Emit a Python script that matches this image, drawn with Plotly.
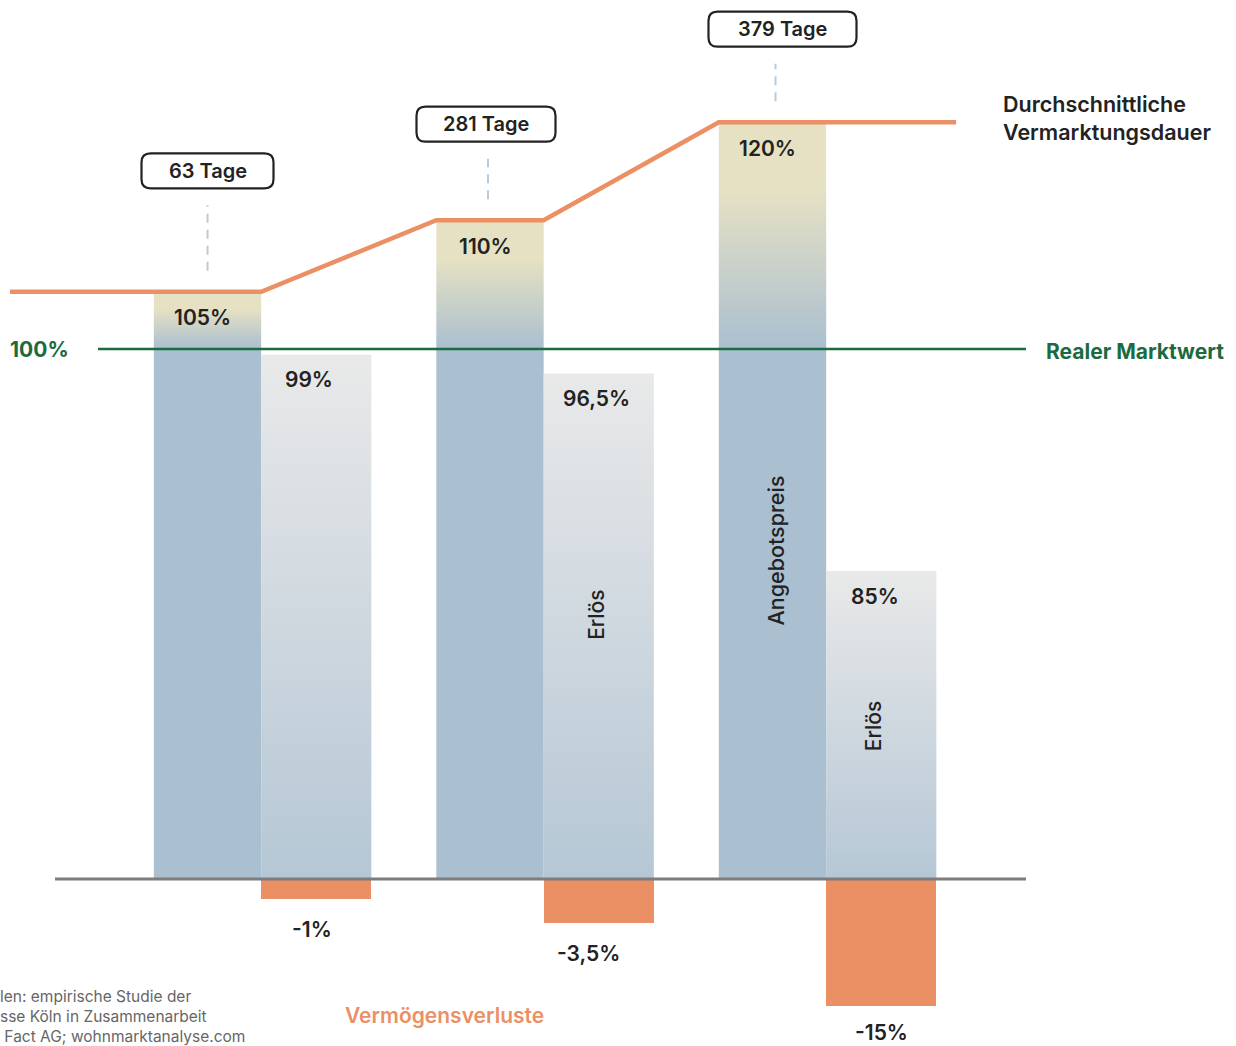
import plotly.graph_objects as go

# ---------------- data ----------------
vermarktungsdauer_tage = [63, 281, 379]
angebotspreis_pct = [105, 110, 120]
erloes_pct = [99, 96.5, 85]
verlust_pct = [-1, -3.5, -15]
# bar heights as drawn in the picture (scale: 0 = baseline, 100 = real market value line)
angebotspreis_hoehe = [110.8, 124.3, 142.8]
erloes_hoehe = [98.9, 95.4, 58.1]
verlust_hoehe = [-3.8, -8.3, -24.0]
marktwert = 100

# ---------------- style ----------------
FONT = "Inter"
DARK = "#222222"
GREEN = "#1b6b3e"
ORANGE = "#eb8f64"
BEIGE = "#e6e1c3"
BLUE = "#aabfd0"
ERL_TOP = "#e9e9e9"
ERL_BOT = "#b5c7d5"
W = 0.38      # Angebotspreis bar width
W2 = 0.39     # Erlös / Verlust bar width
gx = [1, 2, 3]
box_offset_px = [121, 96, 93]
box_w_px = [132, 139, 148]
box_dx_px = [0, -4, 10]
dash_dx_px = [0, -2, 3]
loss_dx_px = [-4, -10, 0]
loss_dy_px = [-30, -30, -26]
erl_dx_px = [-7, -2, -6]
BOX_H = 35
R = 9


def de(v):
    return f"{v:g}".replace(".", ",") + "%"


fig = go.Figure()

# Angebotspreis bars (gradient polygons)
for g, h in zip(gx, angebotspreis_hoehe):
    f_line = marktwert / h
    f_hold = (h - 0.3 * (h - marktwert)) / h
    fig.add_trace(go.Scatter(
        x=[g - W, g, g, g - W, g - W], y=[0, 0, h, h, 0],
        mode="lines", fill="toself", line=dict(width=0),
        fillgradient=dict(type="vertical", start=0, stop=h,
                          colorscale=[[0, BLUE], [f_line, BLUE], [f_hold, BEIGE], [1, BEIGE]]),
        hoverinfo="skip", showlegend=False))

# Erlös bars (gradient polygons)
for g, h in zip(gx, erloes_hoehe):
    fig.add_trace(go.Scatter(
        x=[g, g + W2, g + W2, g, g], y=[0, 0, h, h, 0],
        mode="lines", fill="toself", line=dict(width=0),
        fillgradient=dict(type="vertical", start=0, stop=h,
                          colorscale=[[0, ERL_BOT], [1, ERL_TOP]]),
        hoverinfo="skip", showlegend=False))

# Vermögensverluste bars
fig.add_trace(go.Bar(
    x=gx, y=verlust_hoehe, width=[W2] * 3, offset=0,
    marker=dict(color=ORANGE, line=dict(width=0)),
    customdata=verlust_pct, hovertemplate="%{customdata}%<extra></extra>",
    showlegend=False))

# Vermarktungsdauer line (through the tops of the Angebotspreis bars)
line_x = [gx[0] - 0.889]
line_y = [angebotspreis_hoehe[0]]
for i, (g, h) in enumerate(zip(gx, angebotspreis_hoehe)):
    if i > 0:
        line_x.append(g - W)
        line_y.append(h)
    line_x.append(g)
    line_y.append(h)
line_x[-1] = gx[-1] + 0.46
fig.add_trace(go.Scatter(x=line_x, y=line_y, mode="lines",
                         line=dict(color=ORANGE, width=4.5),
                         hoverinfo="skip", showlegend=False))

shapes = []
annotations = []

# reference lines
shapes.append(dict(type="line", xref="paper", yref="y", x0=98 / 1236, x1=1026 / 1236,
                   y0=marktwert, y1=marktwert, line=dict(color=GREEN, width=2.5), layer="above"))
shapes.append(dict(type="line", xref="paper", yref="y", x0=55 / 1236, x1=1026 / 1236,
                   y0=0, y1=0, line=dict(color="#7d7d7d", width=3), layer="above"))

for i, (g, h) in enumerate(zip(gx, angebotspreis_hoehe)):
    xc = g - W / 2
    off = box_offset_px[i]
    hw = box_w_px[i] / 2
    hh = BOX_H / 2
    dx = box_dx_px[i]
    # dashed connector
    shapes.append(dict(type="line", xref="x", yref="y", xsizemode="pixel", ysizemode="pixel",
                       xanchor=xc, yanchor=h, x0=dash_dx_px[i], x1=dash_dx_px[i],
                       y0=21, y1=off - hh - 17,
                       line=dict(color="#bccbda", width=2, dash="9px,7px")))
    # rounded box
    l, r_, b, t = dx - hw, dx + hw, off - hh, off + hh
    path = (f"M{l + R},{b} L{r_ - R},{b} Q{r_},{b} {r_},{b + R} L{r_},{t - R} "
            f"Q{r_},{t} {r_ - R},{t} L{l + R},{t} Q{l},{t} {l},{t - R} L{l},{b + R} "
            f"Q{l},{b} {l + R},{b} Z")
    shapes.append(dict(type="path", xref="x", yref="y", xsizemode="pixel", ysizemode="pixel",
                       xanchor=xc, yanchor=h, path=path, fillcolor="white",
                       line=dict(color=DARK, width=2.2)))
    annotations.append(dict(x=xc, y=h, xref="x", yref="y", xshift=dx, yshift=off,
                            text=f"{vermarktungsdauer_tage[i]} Tage", showarrow=False,
                            font=dict(family=FONT, size=20, color=DARK, weight=600),
                            xanchor="center", yanchor="middle"))
    # value label Angebotspreis
    annotations.append(dict(x=xc, y=h, xref="x", yref="y", xshift=-5, yshift=-26,
                            text=de(angebotspreis_pct[i]), showarrow=False,
                            font=dict(family=FONT, size=21, color=DARK, weight=600),
                            xanchor="center", yanchor="middle"))

for i, (g, h) in enumerate(zip(gx, erloes_hoehe)):
    xc = g + W2 / 2
    annotations.append(dict(x=xc, y=h, xref="x", yref="y", xshift=erl_dx_px[i], yshift=-25,
                            text=de(erloes_pct[i]), showarrow=False,
                            font=dict(family=FONT, size=21, color=DARK, weight=600),
                            xanchor="center", yanchor="middle"))
    annotations.append(dict(x=xc, y=verlust_hoehe[i], xref="x", yref="y", xshift=loss_dx_px[i],
                            yshift=loss_dy_px[i], text=de(verlust_pct[i]), showarrow=False,
                            font=dict(family=FONT, size=21, color=DARK, weight=600),
                            xanchor="center", yanchor="middle", borderpad=0))

# rotated labels
annotations.append(dict(x=gx[1] + W2 / 2, y=49.8, xref="x", yref="y", xshift=-3, text="Erlös",
                        textangle=-90, showarrow=False,
                        font=dict(family=FONT, size=21, color=DARK, weight=500)))
annotations.append(dict(x=gx[2] - W / 2, y=61.9, xref="x", yref="y", xshift=3, text="Angebotspreis",
                        textangle=-90, showarrow=False,
                        font=dict(family=FONT, size=21.5, color=DARK, weight=500)))
annotations.append(dict(x=gx[2] + W2 / 2, y=28.9, xref="x", yref="y", xshift=-7, text="Erlös",
                        textangle=-90, showarrow=False,
                        font=dict(family=FONT, size=21, color=DARK, weight=500)))

# side texts
annotations.append(dict(x=8 / 1236, y=marktwert, xref="paper", yref="y", text="100%",
                        showarrow=False, xanchor="left", yanchor="middle",
                        font=dict(family=FONT, size=21, color=GREEN, weight=700)))
annotations.append(dict(x=1044 / 1236, y=marktwert, xref="paper", yref="y", yshift=-2,
                        text="Realer Marktwert", showarrow=False, xanchor="left", yanchor="middle",
                        font=dict(family=FONT, size=21, color=GREEN, weight=700)))
annotations.append(dict(x=1001 / 1236, y=1 - 118 / 1046, xref="paper", yref="paper",
                        text="Durchschnittliche<br>Vermarktungsdauer", align="left",
                        showarrow=False, xanchor="left", yanchor="middle",
                        font=dict(family=FONT, size=21.5, color=DARK, weight=600)))
annotations.append(dict(x=444 / 1236, y=1 - 1015 / 1046, xref="paper", yref="paper",
                        text="Vermögensverluste", showarrow=False, xanchor="center", yanchor="middle",
                        font=dict(family=FONT, size=21, color=ORANGE, weight=600)))
annotations.append(dict(x=-2 / 1236, y=1 - 1016 / 1046, xref="paper", yref="paper",
                        text="len: empirische Studie der<br>sse Köln in Zusammenarbeit<br> Fact AG; wohnmarktanalyse.com",
                        align="left", showarrow=False, xanchor="left", yanchor="middle",
                        font=dict(family=FONT, size=15.5, color="#666666")))

fig.update_layout(
    width=1236, height=1046,
    margin=dict(l=0, r=0, t=0, b=0),
    paper_bgcolor="white", plot_bgcolor="white",
    xaxis=dict(range=[0.0755, 4.4507], visible=False, fixedrange=True),
    yaxis=dict(range=[-31.5, 165.85], visible=False, fixedrange=True),
    shapes=shapes, annotations=annotations,
    bargap=0, showlegend=False,
)

fig.write_html("out.html")
